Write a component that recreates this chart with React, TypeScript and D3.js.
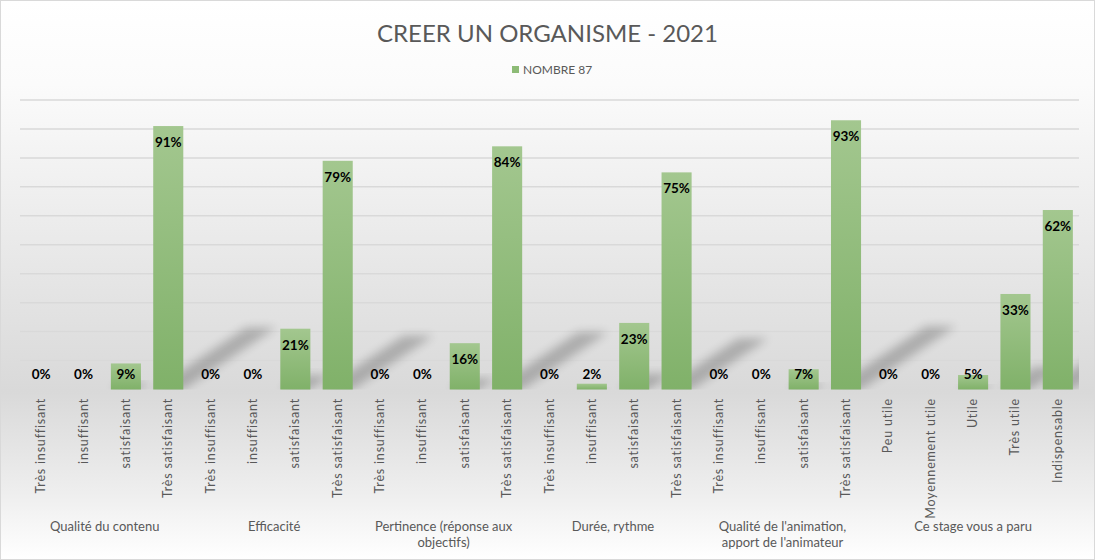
import * as d3 from 'd3';

// Données
const groupLabels = [
  ['Qualité du contenu'],
  ['Efficacité'],
  ['Pertinence (réponse aux', 'objectifs)'],
  ['Durée, rythme'],
  ["Qualité de l'animation,", "apport de l'animateur"],
  ['Ce stage vous a paru'],
];
const satisfactionLevels = ['Très insuffisant', 'insuffisant', 'satisfaisant', 'Très satisfaisant'];
const usefulnessLevels = ['Peu utile', 'Moyennement utile', 'Utile', 'Très utile', 'Indispensable'];
const groupLevels = [
  satisfactionLevels,
  satisfactionLevels,
  satisfactionLevels,
  satisfactionLevels,
  satisfactionLevels,
  usefulnessLevels,
];
const values = [
  [0, 0, 9, 91],
  [0, 0, 21, 79],
  [0, 0, 16, 84],
  [0, 2, 23, 75],
  [0, 0, 7, 93],
  [0, 0, 5, 33, 62],
];
const yTicks = [10, 20, 30, 40, 50, 60, 70, 80, 90, 100];
const seriesName = 'NOMBRE 87';
const title = 'CREER UN ORGANISME - 2021';

const W = 1095;
const H = 560;
const plot = { left: 20, right: 1079, top: 100, bottom: 389.5 };
const font = 'Lato, Calibri, "Open Sans", sans-serif';
const textGrey = '#595959';

interface Row {
  key: string;
  label: string;
  group: number;
  value: number;
}

const rows: Row[] = values.flatMap((vals, g) =>
  vals.map((v, i) => ({ key: `${g}-${i}`, label: groupLevels[g][i], group: g, value: v }))
);

export default function App() {
  const x = d3
    .scaleBand<string>()
    .domain(rows.map(r => r.key))
    .range([plot.left, plot.right])
    .paddingInner(0.29)
    .paddingOuter(0.145);
  const y = d3.scaleLinear().domain([0, 100]).range([plot.bottom, plot.top]);
  const bw = x.bandwidth();

  const groupCenters = groupLabels.map((_, g) => {
    const keys = rows.filter(r => r.group === g).map(r => x(r.key)! + bw / 2);
    return (d3.min(keys)! + d3.max(keys)!) / 2;
  });

  // ombre en perspective projetée derrière chaque barre
  const shadowPath = (r: Row) => {
    const xl = x(r.key)!;
    const xr = xl + bw;
    const h = plot.bottom - y(r.value);
    const hs = h * 0.235;
    const dx = hs * 1.5;
    const b = plot.bottom;
    return `M${xl},${b}L${xr},${b}L${xr + dx},${b - hs}L${xl + dx},${b - hs}Z`;
  };

  return (
    <div style={{ position: 'absolute', left: 0, top: 0 }}>
      <svg width={W} height={H} style={{ display: 'block' }}>
        <defs>
          <linearGradient id="bg" x1="0" y1="0" x2="0" y2="1">
            <stop offset="0" stopColor="#ffffff" />
            <stop offset="0.15" stopColor="#fbfbfb" />
            <stop offset="0.7" stopColor="#d9d9d9" />
            <stop offset="0.88" stopColor="#eeeeee" />
            <stop offset="1" stopColor="#ffffff" />
          </linearGradient>
          <linearGradient id="barFill" x1="0" y1="0" x2="0" y2="1">
            <stop offset="0" stopColor="#a3c78f" />
            <stop offset="1" stopColor="#80b169" />
          </linearGradient>
          <filter id="blur" x="-50%" y="-50%" width="200%" height="200%">
            <feGaussianBlur stdDeviation="5" />
          </filter>
          <clipPath id="plotClip">
            <rect x={plot.left} y={plot.top} width={plot.right - plot.left} height={plot.bottom - plot.top} />
          </clipPath>
        </defs>

        <rect x={0.5} y={0.5} width={W - 1} height={H - 1} fill="url(#bg)" stroke="#d9d9d9" />

        <text x={W / 2} y={42} textAnchor="middle" fontFamily={font} fontSize={24} fill={textGrey}>
          {title}
        </text>

        <rect x={512} y={66} width={7} height={7} fill="#8dbb76" />
        <text x={523} y={74} fontFamily={font} fontSize={12} fill={textGrey}>
          {seriesName}
        </text>

        {yTicks.map(t => (
          <line
            key={t}
            x1={plot.left}
            x2={plot.right}
            y1={y(t)}
            y2={y(t)}
            stroke="#d9d9d9"
            strokeWidth={1.5}
          />
        ))}

        <g clipPath="url(#plotClip)">
          {rows
            .filter(r => r.value > 0)
            .map(r => (
              <path key={r.key} d={shadowPath(r)} fill="#000" opacity={0.22} filter="url(#blur)" />
            ))}
        </g>

        {rows.map(r => (
          <rect
            key={r.key}
            x={x(r.key)!}
            y={y(r.value)}
            width={bw}
            height={plot.bottom - y(r.value)}
            fill="url(#barFill)"
          />
        ))}

        {rows.map(r => (
          <text
            key={r.key}
            x={x(r.key)! + bw / 2}
            y={Math.min(y(r.value) + 21, 379)}
            textAnchor="middle"
            fontFamily={font}
            fontSize={13.5}
            fontWeight="bold"
            fill="#000"
          >
            {`${r.value}%`}
          </text>
        ))}

        {rows.map(r => {
          const cx = x(r.key)! + bw / 2;
          return (
            <text
              key={r.key}
              transform={`translate(${cx + 4},398) rotate(-90)`}
              textAnchor="end"
              fontFamily={font}
              fontSize={12.5}
              letterSpacing={0.8}
              fill={textGrey}
            >
              {r.label}
            </text>
          );
        })}

        {groupLabels.map((lines, g) => (
          <text key={g} x={groupCenters[g]} y={531} textAnchor="middle" fontFamily={font} fontSize={13} fill={textGrey}>
            {lines.map((l, i) => (
              <tspan key={i} x={groupCenters[g]} dy={i === 0 ? 0 : 16}>
                {l}
              </tspan>
            ))}
          </text>
        ))}
      </svg>
    </div>
  );
}
